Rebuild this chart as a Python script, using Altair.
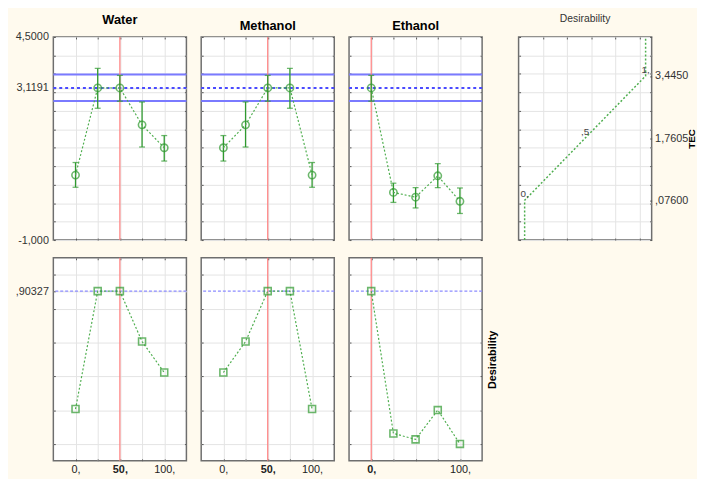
import altair as alt
import pandas as pd

# ---------------- data ----------------
levels = [0, 25, 50, 75, 100]

water_tec = [0.76, 3.12, 3.1191, 2.12, 1.50]
water_lo = [0.43, 2.57, 2.76, 1.52, 1.14]
water_hi = [1.10, 3.65, 3.46, 2.74, 1.83]

methanol_tec = [1.50, 2.12, 3.1191, 3.12, 0.76]
methanol_lo = [1.14, 1.52, 2.76, 2.57, 0.43]
methanol_hi = [1.83, 2.74, 3.46, 3.65, 1.10]

ethanol_tec = [3.1191, 0.29, 0.16, 0.74, 0.05]
ethanol_lo = [2.76, 0.02, -0.13, 0.42, -0.28]
ethanol_hi = [3.46, 0.54, 0.42, 1.07, 0.41]

water_des = [0.206, 0.903, 0.903, 0.605, 0.422]
methanol_des = [0.422, 0.605, 0.903, 0.903, 0.206]
ethanol_des = [0.903, 0.062, 0.027, 0.200, 0.0]

current_levels = {"Water": 50, "Methanol": 50, "Ethanol": 0}
predicted_tec = 3.1191
tec_ci = [2.765, 3.485]
overall_desirability = 0.90327

des_func_d = [0.0, 0.0, 0.5, 1.0, 1.0]
des_func_tec = [-1.0, 0.076, 1.7605, 3.445, 4.5]
des_func_label_d = [0.0, 0.5, 1.0]
des_func_label_tec = [0.076, 1.7605, 3.445]
des_func_labels = ["0,", ",5", "1,"]

tec_tick_vals = [4.5, 3.1191, -1.0]
tec_tick_text = ["4,5000", "3,1191", "-1,000"]
tec_right_vals = [3.445, 1.7605, 0.076]
tec_right_text = ["3,4450", "1,7605", ",07600"]
des_tick_vals = [0.90327]
des_tick_text = [",90327"]
x_tick_vals = [0, 50, 100]
x_tick_text = ["0,", "50,", "100,"]
ethanol_x_tick_vals = [0, 100]
ethanol_x_tick_text = ["0,", "100,"]

tec_grid = [-1.0, -0.5, 0.0, 0.5, 1.0, 1.5, 2.0, 2.5, 3.0, 3.5, 4.0, 4.5]
des_grid = [0.0, 0.2, 0.4, 0.6, 0.8, 1.0]
level_grid = [0, 25, 50, 75, 100]
dfun_grid = [0.15, 0.35, 0.55, 0.75, 0.95]

# ---------------- style ----------------
FONT = "Liberation Sans"
GREEN = "#2f9a2f"
GREEN_LINE = "#4fae4f"
BLUE = "#7a7aff"
BLUE_DASH = "#4a4aff"
BLUE_LIGHT = "#8c8cff"
RED = "#ff7f7f"
GRID = "#e4e4e4"
TICK = "#555555"
LABEL = "#333333"
W, H = 135, 206

X_LEV = alt.Scale(domain=[-25, 125], nice=False, zero=False)
Y_TEC = alt.Scale(domain=[-1.0, 4.5], nice=False, zero=False)
Y_DES = alt.Scale(domain=[-0.1, 1.1], nice=False, zero=False)
X_DF = alt.Scale(domain=[-0.05, 1.05], nice=False, zero=False)


def label_expr(vals, texts):
    parts = [f"abs(datum.value - ({v})) < 1e-6 ? '{t}'" for v, t in zip(vals, texts)]
    return " : ".join(parts) + " : ''"


def axis(orient, values, grid=False, expr=None, title=None, **kw):
    d = dict(orient=orient, values=values, grid=grid, gridColor=GRID, gridWidth=1,
             domain=False, ticks=True, tickSize=2, offset=-2, tickColor=TICK,
             tickWidth=1, labelOverlap=False, labelBound=False,
             labelFont=FONT, labelFontSize=11, labelColor=LABEL, labelPadding=3)
    if expr is None:
        d["labels"] = False
    else:
        d["labels"] = True
        d["labelExpr"] = expr
    d["title"] = title
    d.update(kw)
    return alt.Axis(**d)


def frame_layers(xs, ys, xgrid, ygrid, bottom_kw, left_kw, top_kw, right_kw):
    df = pd.DataFrame({"x": [xs.domain[0]], "y": [ys.domain[0]]})
    bk = dict(bottom_kw); lk = dict(left_kw); tk = dict(top_kw); rk = dict(right_kw)
    a = alt.Chart(df).mark_point(opacity=0).encode(
        x=alt.X("x:Q", scale=xs, axis=axis("bottom", bk.pop("values", xgrid), grid=True, **bk)),
        y=alt.Y("y:Q", scale=ys, axis=axis("left", lk.pop("values", ygrid), grid=True, **lk)),
    )
    b = alt.Chart(df).mark_point(opacity=0).encode(
        x=alt.X("x:Q", scale=xs, axis=axis("top", tk.pop("values", xgrid), **tk)),
        y=alt.Y("y:Q", scale=ys, axis=axis("right", rk.pop("values", ygrid), **rk)),
    )
    return [a, b]


def title_params(text):
    return alt.TitleParams(text, font=FONT, fontSize=13, fontWeight="bold",
                           color="black", anchor="middle", offset=4)


def top_panel(name, tec, lo, hi, first):
    cur = current_levels[name]
    df = pd.DataFrame({"x": levels, "y": tec, "lo": lo, "hi": hi})
    left_kw = {}
    if first:
        left_kw = dict(expr=label_expr(tec_tick_vals, tec_tick_text),
                       values=tec_grid + [predicted_tec], labelPadding=5)
    layers = frame_layers(X_LEV, Y_TEC, level_grid, tec_grid, {}, left_kw, {}, {})
    hl = pd.DataFrame({"y": tec_ci})
    layers.append(alt.Chart(hl).mark_rule(color=BLUE, strokeWidth=2).encode(
        y=alt.Y("y:Q", scale=Y_TEC, axis=None)))
    hp = pd.DataFrame({"y": [predicted_tec]})
    layers.append(alt.Chart(hp).mark_rule(color=BLUE_DASH, strokeWidth=2, strokeDash=[3, 3]).encode(
        y=alt.Y("y:Q", scale=Y_TEC, axis=None)))
    vl = pd.DataFrame({"x": [cur]})
    layers.append(alt.Chart(vl).mark_rule(color=RED, strokeWidth=1.2).encode(
        x=alt.X("x:Q", scale=X_LEV, axis=None)))
    base = alt.Chart(df)
    layers.append(base.mark_rule(color=GREEN, strokeWidth=1.3).encode(
        x=alt.X("x:Q", scale=X_LEV, axis=None),
        y=alt.Y("lo:Q", scale=Y_TEC, axis=None), y2="hi:Q"))
    for f in ["lo", "hi"]:
        layers.append(base.mark_tick(color=GREEN, orient="horizontal", size=6, thickness=1.3).encode(
            x=alt.X("x:Q", scale=X_LEV, axis=None),
            y=alt.Y(f"{f}:Q", scale=Y_TEC, axis=None)))
    layers.append(base.mark_line(color=GREEN_LINE, strokeWidth=1.2, strokeDash=[2, 2]).encode(
        x=alt.X("x:Q", scale=X_LEV, axis=None),
        y=alt.Y("y:Q", scale=Y_TEC, axis=None)))
    layers.append(base.mark_point(shape="circle", filled=False, color=GREEN, size=55, strokeWidth=1.6).encode(
        x=alt.X("x:Q", scale=X_LEV, axis=None),
        y=alt.Y("y:Q", scale=Y_TEC, axis=None)))
    return alt.layer(*layers).resolve_axis(x="independent", y="independent").properties(
        width=W, height=H, title=title_params(name))


def bottom_panel(name, des, first, last):
    cur = current_levels[name]
    df = pd.DataFrame({"x": levels, "y": des})
    if name == "Ethanol":
        xv, xt = ethanol_x_tick_vals, ethanol_x_tick_text
    else:
        xv, xt = x_tick_vals, x_tick_text
    bottom_kw = dict(
        expr=label_expr(xv, xt), labelPadding=3, labelColor="#222222",
        labelFontWeight={"condition": {"test": f"datum.value == {cur}", "value": "bold"},
                         "value": "normal"})
    left_kw = {}
    if first:
        left_kw = dict(expr=label_expr(des_tick_vals, des_tick_text),
                       values=des_grid + [overall_desirability], labelPadding=5)
    right_kw = {}
    if last:
        right_kw = dict(title="Desirability", titleAngle=270, titleFont=FONT, titleFontSize=11,
                        titleFontWeight="bold", titleColor="black",
                        titleX=13, titleY=H / 2, titleAlign="center", titleBaseline="middle")
    layers = frame_layers(X_LEV, Y_DES, level_grid, des_grid, bottom_kw, left_kw, {}, right_kw)
    hp = pd.DataFrame({"y": [overall_desirability]})
    layers.append(alt.Chart(hp).mark_rule(color=BLUE_LIGHT, strokeWidth=1.2, strokeDash=[3, 2]).encode(
        y=alt.Y("y:Q", scale=Y_DES, axis=None)))
    vl = pd.DataFrame({"x": [cur]})
    layers.append(alt.Chart(vl).mark_rule(color=RED, strokeWidth=1.2).encode(
        x=alt.X("x:Q", scale=X_LEV, axis=None)))
    base = alt.Chart(df)
    layers.append(base.mark_line(color=GREEN_LINE, strokeWidth=1.2, strokeDash=[2, 2]).encode(
        x=alt.X("x:Q", scale=X_LEV, axis=None),
        y=alt.Y("y:Q", scale=Y_DES, axis=None)))
    layers.append(base.mark_point(shape="square", filled=False, color=GREEN, size=50, strokeWidth=1.6).encode(
        x=alt.X("x:Q", scale=X_LEV, axis=None),
        y=alt.Y("y:Q", scale=Y_DES, axis=None)))
    return alt.layer(*layers).resolve_axis(x="independent", y="independent").properties(
        width=W, height=H)


def desirability_fn_panel():
    df = pd.DataFrame({"x": des_func_d, "y": des_func_tec})
    lab = pd.DataFrame({"x": des_func_label_d, "y": des_func_label_tec, "t": des_func_labels})
    right_kw = dict(expr=label_expr(tec_right_vals, tec_right_text),
                    values=tec_grid + tec_right_vals, labelPadding=3,
                    title="TEC", titleAngle=270, titleFont=FONT, titleFontSize=10,
                    titleFontWeight="bold", titleColor="black",
                    titleX=42, titleY=H / 2, titleAlign="center", titleBaseline="middle")
    # invisible left title: keeps the wider gap before this panel
    left_kw = dict(title=" ", titleAngle=270, titleFontSize=9, titlePadding=0,
                   titleColor="white", titleOpacity=0)
    layers = frame_layers(X_DF, Y_TEC, dfun_grid, tec_grid, {}, left_kw, {}, right_kw)
    layers.append(alt.Chart(df).mark_line(color=GREEN_LINE, strokeWidth=1.5, strokeDash=[2, 2], clip=True).encode(
        x=alt.X("x:Q", scale=X_DF, axis=None),
        y=alt.Y("y:Q", scale=Y_TEC, axis=None)))
    layers.append(alt.Chart(lab).mark_text(font=FONT, fontSize=10, color="#444444", align="center",
                                           baseline="bottom", dy=-1).encode(
        x=alt.X("x:Q", scale=X_DF, axis=None),
        y=alt.Y("y:Q", scale=Y_TEC, axis=None), text="t:N"))
    return alt.layer(*layers).resolve_axis(x="independent", y="independent").properties(
        width=W, height=H,
        title=alt.TitleParams("Desirability", font=FONT, fontSize=10.5, fontWeight="normal",
                              color="#333333", anchor="middle", offset=6.5))


chart = alt.concat(
    top_panel("Water", water_tec, water_lo, water_hi, True),
    top_panel("Methanol", methanol_tec, methanol_lo, methanol_hi, False),
    top_panel("Ethanol", ethanol_tec, ethanol_lo, ethanol_hi, False),
    desirability_fn_panel(),
    bottom_panel("Water", water_des, True, False),
    bottom_panel("Methanol", methanol_des, False, False),
    bottom_panel("Ethanol", ethanol_des, False, True),
    columns=4, spacing={"row": 10, "column": 9},
).properties(
    background="#FFFAEE",
    padding={"left": 6, "top": 2, "right": 0, "bottom": 0},
).configure_view(stroke="#6e6e6e", strokeWidth=1.5, fill="white")

chart.save("out.html", embed_options={"renderer": "svg", "actions": False})
